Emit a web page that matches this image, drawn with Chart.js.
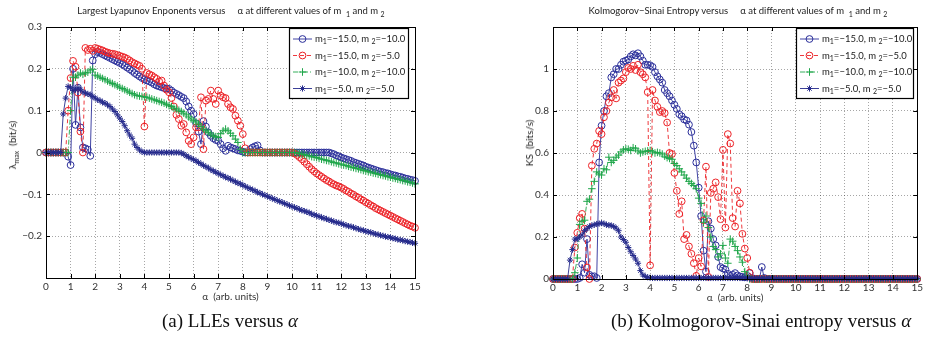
<!DOCTYPE html>
<html>
<head>
<meta charset="utf-8">
<script src="https://cdn.jsdelivr.net/npm/chart.js@4.4.1/dist/chart.umd.min.js"></script>
<style>
  body { margin:0; background:#fff; width:926px; height:349px; position:relative; overflow:hidden; font-family:Lato, "Liberation Sans", sans-serif; color:#222; }
  canvas { position:absolute; top:0; }
  .ttl { position:absolute; top:5px; transform:translateX(-50%); font-size:9.5px; line-height:12px; white-space:nowrap; color:#222; }
  .ylab { position:absolute; transform:translate(-50%,-50%) rotate(-90deg); font-size:10px; white-space:nowrap; color:#222; }
  sub { font-size:7px; vertical-align:-3px; line-height:0; }
  .cap { position:absolute; top:310px; transform:translateX(-50%); font-family:"Liberation Serif", serif; font-size:19px; white-space:nowrap; color:#111; }
</style>
</head>
<body>
<canvas id="lle" width="470" height="349" style="left:0"></canvas>
<canvas id="ks" width="456" height="349" style="left:470px"></canvas>

<div class="ttl" style="left:231px">Largest Lyapunov Enponents versus &nbsp;&nbsp;&nbsp; α at different values of m &nbsp;<sub>1</sub> and m <sub>2</sub></div>
<div class="ttl" style="left:738px">Kolmogorov−Sinai Entropy versus &nbsp;&nbsp;&nbsp; α at different values of m &nbsp;<sub>1</sub> and m <sub>2</sub></div>
<div class="ylab" style="left:12px; top:145px">λ<sub>max</sub>&nbsp; (bit/s)</div>
<div class="ylab" style="left:529px; top:143px">KS &nbsp;(bits/s)</div>
<div class="cap" style="left:230px">(a) LLEs versus <i>α</i></div>
<div class="cap" style="left:761px">(b) Kolmogorov-Sinai entropy versus <i>α</i></div>

<script>
// alpha grid, step 0.1 from 0 to 15
const alpha = [];
for (let i = 0; i <= 150; i++) alpha.push(+(i / 10).toFixed(1));

const alphaTicks = [0,1,2,3,4,5,6,7,8,9,10,11,12,13,14,15];
const lleTicks = [-0.2,-0.1,0,0.1,0.2,0.3];
const ksTicks = [0,0.2,0.4,0.6,0.8,1];

const legendM1 = ['−15.0','−15.0','−10.0','−5.0'];
const legendM2 = ['−10.0','−5.0','−10.0','−5.0'];

// largest Lyapunov exponent (bit/s)
const lle_m15_m10 = [
  0,0,0,0,0,0,0,0,0,-0.01,
  -0.03,0.2,0.066,0.155,0.06,0.012,0.01,0.007,-0.008,0.22,
  0.235,0.24,0.238,0.235,0.232,0.229,0.226,0.223,0.22,0.217,
  0.214,0.211,0.207,0.203,0.199,0.195,0.19,0.186,0.182,0.178,
  0.175,0.172,0.17,0.167,0.163,0.16,0.158,0.156,0.154,0.153,
  0.152,0.148,0.143,0.14,0.137,0.133,0.13,0.122,0.11,0.1,
  0.092,0.07,0.05,0.02,0.075,0.062,0.048,0.04,0.034,0.03,
  0.028,0.02,0.01,0.004,0.016,0.012,0.01,0.008,0.005,0.004,
  0.002,0,0,0.008,0.012,0.015,0.017,0.005,0,0,
  0,0,0,0,0,0,0,0,0,0,
  0,0,0,0,0,0,0,0,0,0,
  0,0,0,0,0,0,-0.002,-0.004,-0.007,-0.009,
  -0.012,-0.014,-0.016,-0.018,-0.02,-0.023,-0.025,-0.027,-0.029,-0.031,
  -0.034,-0.036,-0.038,-0.04,-0.042,-0.044,-0.046,-0.047,-0.049,-0.05,
  -0.052,-0.054,-0.055,-0.057,-0.058,-0.06,-0.062,-0.063,-0.065,-0.066,
  -0.068
];
const lle_m15_m5 = [
  0,0,0,0,0,0,0,0,0,0.1,
  0.178,0.219,0.205,0.143,0.05,0,0.25,0.245,0.248,0.243,
  0.25,0.248,0.246,0.244,0.241,0.239,0.237,0.236,0.235,0.233,
  0.231,0.229,0.227,0.224,0.22,0.216,0.213,0.21,0.207,0.2,
  0.062,0.19,0.187,0.184,0.18,0.176,0.17,0.172,0.16,0.15,
  0.144,0.13,0.11,0.09,0.08,0.064,0.068,0.048,0.028,0.02,
  0.036,0.06,0.06,0.132,0.008,0.124,0.128,0.148,0.128,0.116,
  0.148,0.136,0.132,0.13,0.116,0.108,0.104,0.088,0.076,0.064,
  0.044,0.01,0,0,0,0,0,0,0,0,
  0,0,0,0,0,0,0,0,0,0,
  0,-0.002,-0.006,-0.011,-0.016,-0.022,-0.028,-0.034,-0.04,-0.045,
  -0.05,-0.054,-0.058,-0.062,-0.066,-0.069,-0.073,-0.076,-0.079,-0.081,
  -0.084,-0.087,-0.091,-0.094,-0.098,-0.101,-0.105,-0.108,-0.112,-0.115,
  -0.119,-0.122,-0.126,-0.129,-0.133,-0.136,-0.139,-0.142,-0.145,-0.148,
  -0.151,-0.154,-0.157,-0.16,-0.163,-0.166,-0.169,-0.172,-0.175,-0.177,
  -0.18
];
const lle_m10_m10 = [
  0,0,0,0,0,0,0,0,0,0,
  0.1,0.18,0.18,0.185,0.19,0.187,0.19,0.192,0.197,0.199,
  0.185,0.183,0.18,0.177,0.174,0.171,0.168,0.165,0.162,0.159,
  0.156,0.153,0.15,0.147,0.144,0.141,0.138,0.136,0.135,0.134,
  0.133,0.132,0.13,0.128,0.126,0.124,0.122,0.12,0.118,0.115,
  0.112,0.11,0.106,0.104,0.101,0.098,0.094,0.09,0.085,0.08,
  0.076,0.073,0.068,0.062,0.056,0.052,0.048,0.044,0.04,0.038,
  0.036,0.045,0.052,0.056,0.052,0.046,0.04,0.032,0.024,0.008,
  0,0,0,0,0,0,0,0,0,0,
  0,0,0,0,0,0,0,0,0,0,
  0,0,-0.001,-0.002,-0.004,-0.005,-0.007,-0.008,-0.01,-0.011,
  -0.012,-0.014,-0.016,-0.017,-0.019,-0.02,-0.022,-0.024,-0.025,-0.027,
  -0.028,-0.03,-0.031,-0.033,-0.035,-0.036,-0.038,-0.039,-0.041,-0.043,
  -0.044,-0.046,-0.047,-0.049,-0.05,-0.052,-0.053,-0.055,-0.056,-0.058,
  -0.059,-0.061,-0.062,-0.064,-0.065,-0.067,-0.068,-0.07,-0.071,-0.073,
  -0.075
];
const lle_m5_m5 = [
  0,0,0,0,0,0,0,0.092,0.13,0.158,
  0.155,0.148,0.15,0.155,0.15,0.145,0.142,0.14,0.138,0.134,
  0.13,0.126,0.124,0.12,0.118,0.114,0.11,0.104,0.098,0.09,
  0.082,0.074,0.064,0.052,0.042,0.034,0.02,0.012,0.006,0.002,
  0,0,0,0,0,0,0,0,0,0,
  0,0,0,0,0,-0.001,-0.004,-0.008,-0.011,-0.014,
  -0.017,-0.02,-0.024,-0.027,-0.031,-0.034,-0.037,-0.041,-0.044,-0.047,
  -0.05,-0.053,-0.056,-0.059,-0.061,-0.064,-0.067,-0.07,-0.073,-0.075,
  -0.078,-0.081,-0.084,-0.087,-0.089,-0.092,-0.095,-0.097,-0.1,-0.102,
  -0.105,-0.107,-0.11,-0.112,-0.115,-0.117,-0.119,-0.122,-0.124,-0.127,
  -0.129,-0.131,-0.133,-0.136,-0.138,-0.14,-0.142,-0.144,-0.147,-0.149,
  -0.151,-0.153,-0.155,-0.157,-0.159,-0.161,-0.163,-0.165,-0.167,-0.168,
  -0.17,-0.172,-0.174,-0.176,-0.177,-0.179,-0.181,-0.183,-0.185,-0.186,
  -0.188,-0.19,-0.191,-0.193,-0.195,-0.196,-0.198,-0.199,-0.201,-0.202,
  -0.203,-0.205,-0.206,-0.208,-0.209,-0.21,-0.212,-0.213,-0.214,-0.216,
  -0.217
];

// Kolmogorov-Sinai entropy (bits/s)
const ks_m15_m10 = [
  0,0,0,0,0,0,0,0,0,0,
  0,0.005,0.07,0.03,0.19,0.02,0.012,0.013,0.005,0.555,
  0.73,0.8,0.87,0.885,0.96,0.975,1.0,1.0,1.02,1.035,
  1.04,1.045,1.06,1.07,1.065,1.075,1.06,1.04,1.02,1.02,
  1.018,1.01,0.985,0.965,0.95,0.935,0.9,0.885,0.87,0.85,
  0.83,0.81,0.785,0.775,0.76,0.755,0.735,0.7,0.635,0.555,
  0.435,0.3,0.135,0.035,0.275,0.24,0.19,0.16,0.105,0.057,
  0.05,0.045,0.025,0.015,0.02,0.028,0.017,0.012,0.01,0.008,
  0.015,0.028,0.005,0,0,0,0.057,0.005,0,0,
  0,0,0,0,0,0,0,0,0,0,
  0,0,0,0,0,0,0,0,0,0,
  0,0,0,0,0,0,0,0,0,0,
  0,0,0,0,0,0,0,0,0,0,
  0,0,0,0,0,0,0,0,0,0,
  0,0,0,0,0,0,0,0,0,0,
  0
];
const ks_m15_m5 = [
  0,0,0,0,0,0,0,0,0,0.15,
  0.22,0.29,0.31,0.24,0.055,0,0.54,0.62,0.645,0.705,
  0.69,0.77,0.8,0.84,0.865,0.9,0.86,0.935,0.945,0.955,
  0.985,1.005,1.0,1.015,0.995,1.02,0.985,0.975,0.96,0.89,
  0.065,0.9,0.85,0.82,0.795,0.8,0.79,0.745,0.6,0.595,
  0.505,0.42,0.31,0.37,0.19,0.21,0.155,0.12,0.075,0.015,
  0.1,0.06,0.28,0.535,0.01,0.41,0.43,0.46,0.39,0.285,
  0.615,0.245,0.69,0.645,0.29,0.25,0.42,0.36,0.215,0.145,
  0.1,0.03,0,0,0,0,0,0,0,0,
  0,0,0,0,0,0,0,0,0,0,
  0,0,0,0,0,0,0,0,0,0,
  0,0,0,0,0,0,0,0,0,0,
  0,0,0,0,0,0,0,0,0,0,
  0,0,0,0,0,0,0,0,0,0,
  0,0,0,0,0,0,0,0,0,0,
  0
];
const ks_m10_m10 = [
  0,0,0,0,0,0,0,0,0,0.03,
  0.1,0.26,0.275,0.28,0.37,0.38,0.43,0.465,0.51,0.5,
  0.495,0.525,0.52,0.58,0.555,0.565,0.58,0.59,0.605,0.615,
  0.62,0.618,0.612,0.625,0.62,0.61,0.6,0.605,0.608,0.61,
  0.612,0.606,0.6,0.603,0.6,0.595,0.585,0.578,0.574,0.57,
  0.55,0.54,0.525,0.51,0.495,0.48,0.465,0.455,0.445,0.43,
  0.385,0.36,0.27,0.3,0.245,0.2,0.155,0.14,0.105,0.12,
  0.16,0.1,0.075,0.19,0.18,0.155,0.135,0.105,0.08,0.035,
  0.015,0,0,0,0,0,0,0,0,0,
  0,0,0,0,0,0,0,0,0,0,
  0,0,0,0,0,0,0,0,0,0,
  0,0,0,0,0,0,0,0,0,0,
  0,0,0,0,0,0,0,0,0,0,
  0,0,0,0,0,0,0,0,0,0,
  0,0,0,0,0,0,0,0,0,0,
  0
];
const ks_m5_m5 = [
  0,0,0,0,0,0,0,0.09,0.14,0.19,
  0.19,0.2,0.21,0.23,0.24,0.25,0.255,0.258,0.262,0.264,
  0.266,0.264,0.258,0.256,0.255,0.25,0.242,0.23,0.2,0.188,
  0.175,0.15,0.13,0.112,0.095,0.075,0.04,0.02,0.012,0.008,
  0.006,0.005,0.005,0.005,0.005,0.005,0.005,0.005,0.005,0.005,
  0.005,0.005,0.005,0.005,0.005,0.005,0.005,0.005,0.005,0.005,
  0.005,0.005,0.005,0.005,0.005,0.005,0.005,0.005,0.005,0.005,
  0.005,0.005,0.005,0.005,0.005,0.005,0.005,0.005,0.005,0.005,
  0.003,0.003,0.003,0.003,0.003,0.003,0.003,0.003,0.003,0.003,
  0.002,0.002,0.002,0.002,0.002,0.002,0.002,0.002,0.002,0.002,
  0.002,0.002,0.002,0.002,0.002,0.002,0.002,0.002,0.002,0.002,
  0.002,0.002,0.002,0.002,0.002,0.002,0.002,0.002,0.002,0.002,
  0.002,0.002,0.002,0.002,0.002,0.002,0.002,0.002,0.002,0.002,
  0.002,0.002,0.002,0.002,0.002,0.002,0.002,0.002,0.002,0.002,
  0.002,0.002,0.002,0.002,0.002,0.002,0.002,0.002,0.002,0.002,
  0.002
];

Chart.defaults.font.family = 'Lato, "Liberation Sans", sans-serif';
Chart.defaults.color = '#222';

const looks = [
  {color:'#2b2f9a', pointStyle:'circle', radius:3.4, dash:[], order:4},
  {color:'#ec2227', pointStyle:'circle', radius:3.4, dash:[4,3], order:3},
  {color:'#1fa64a', pointStyle:'cross', radius:3.8, dash:[5,2,1,2], order:2},
  {color:'#262b8c', pointStyle:'star', radius:3.1, dash:[], order:1}
];

function makeSets(series) {
  return series.map((vals, k) => ({
    label: 'm1=' + legendM1[k] + ', m2=' + legendM2[k],
    data: alpha.map((a, i) => ({x: a, y: vals[i]})),
    borderColor: looks[k].color,
    backgroundColor: 'rgba(0,0,0,0)',
    borderWidth: 0.9,
    borderDash: looks[k].dash,
    pointStyle: looks[k].pointStyle,
    pointRadius: looks[k].radius,
    pointBorderColor: looks[k].color,
    pointBackgroundColor: 'rgba(0,0,0,0)',
    pointBorderWidth: 1,
    order: looks[k].order,
    clip: false,
    tension: 0
  }));
}

function fmt(v) {
  if (v === 0) return '0';
  return String(+v.toFixed(2)).replace('-', '−');
}

// box, inward ticks and legend like the matlab figure
const matlabBox = {
  id: 'matlabBox',
  afterDatasetsDraw(chart, args, o) {
    const {ctx, chartArea, scales} = chart;
    const {left, right, top, bottom} = chartArea;
    ctx.save();
    ctx.strokeStyle = '#000';
    ctx.lineWidth = 1;
    ctx.setLineDash([]);
    ctx.beginPath();
    scales.x.ticks.forEach(t => {
      const px = Math.round(scales.x.getPixelForValue(t.value)) + 0.5;
      ctx.moveTo(px, bottom); ctx.lineTo(px, bottom - 4);
      ctx.moveTo(px, top); ctx.lineTo(px, top + 4);
    });
    scales.y.ticks.forEach(t => {
      const py = Math.round(scales.y.getPixelForValue(t.value)) + 0.5;
      ctx.moveTo(left, py); ctx.lineTo(left + 4, py);
      ctx.moveTo(right, py); ctx.lineTo(right - 4, py);
    });
    ctx.stroke();
    ctx.strokeRect(Math.round(left) + 0.5, Math.round(top) + 0.5, Math.round(right - left), Math.round(bottom - top));

    // legend
    const lg = o.box;
    ctx.fillStyle = '#fff';
    ctx.fillRect(lg.x, lg.y, lg.w, lg.h);
    ctx.lineWidth = 1.2;
    ctx.strokeRect(lg.x + 0.5, lg.y + 0.5, lg.w, lg.h);
    chart.data.datasets.forEach((ds, k) => {
      const yy = lg.y + 11 + k * 16.5;
      const x0 = lg.x + 4, x1 = lg.x + 23;
      ctx.strokeStyle = ds.borderColor;
      ctx.fillStyle = 'rgba(0,0,0,0)';
      ctx.lineWidth = 0.9;
      ctx.setLineDash(ds.borderDash);
      ctx.beginPath(); ctx.moveTo(x0, yy); ctx.lineTo(x1, yy); ctx.stroke();
      ctx.setLineDash([]);
      ctx.lineWidth = 1;
      Chart.helpers.drawPoint(ctx, {pointStyle: ds.pointStyle, radius: ds.pointRadius, rotation: 0, borderWidth: 1}, (x0 + x1) / 2, yy);
      // label with subscripts
      let tx = lg.x + 26;
      ctx.fillStyle = '#1a1a1a';
      ctx.textBaseline = 'middle';
      const big = '9.5px Lato, "Liberation Sans", sans-serif';
      const small = '7px Lato, "Liberation Sans", sans-serif';
      const put = (s, f, dy) => { ctx.font = f; ctx.fillText(s, tx, yy + dy); tx += ctx.measureText(s).width; };
      put('m', big, 0); put('1', small, 3);
      put('=' + legendM1[k] + ', m ', big, 0); put('2', small, 3);
      put('=' + legendM2[k], big, 0);
    });
    ctx.restore();
  }
};

function axisOpts(yTicks, yMin, yMax, pad, box) {
  const tickFont = {size: 10};
  return {
    responsive: false,
    animation: false,
    devicePixelRatio: 1,
    layout: {padding: pad, autoPadding: false},
    plugins: {
      legend: {display: false},
      title: {display: false},
      tooltip: {enabled: false},
      matlabBox: {box: box}
    },
    scales: {
      x: {
        type: 'linear', min: 0, max: 15,
        afterBuildTicks: s => { s.ticks = alphaTicks.map(v => ({value: v})); },
        afterFit: s => { s.height = 25; },
        grid: {color: 'rgba(0,0,0,0.35)', lineWidth: 1, drawTicks: false},
        border: {display: false, dash: [1, 2]},
        ticks: {padding: 3, maxRotation: 0, autoSkip: false, color: '#333', font: tickFont, callback: v => fmt(v)},
        title: {display: true, text: 'α  (arb. units)', padding: 0, color: '#333', font: {size: 10}}
      },
      y: {
        type: 'linear', min: yMin, max: yMax,
        afterBuildTicks: s => { s.ticks = yTicks.map(v => ({value: v})); },
        afterFit: s => { s.width = 46; },
        grid: {color: 'rgba(0,0,0,0.35)', lineWidth: 1, drawTicks: false},
        border: {display: false, dash: [1, 2]},
        ticks: {padding: 4, color: '#333', font: tickFont, callback: v => fmt(v)}
      }
    }
  };
}

new Chart(document.getElementById('lle').getContext('2d'), {
  type: 'line',
  data: {datasets: makeSets([lle_m15_m10, lle_m15_m5, lle_m10_m10, lle_m5_m5])},
  options: axisOpts(lleTicks, -0.3, 0.3, {left: 0, right: 55, top: 27, bottom: 46}, {x: 289, y: 28, w: 119, h: 70}),
  plugins: [matlabBox]
});

new Chart(document.getElementById('ks').getContext('2d'), {
  type: 'line',
  data: {datasets: makeSets([ks_m15_m10, ks_m15_m5, ks_m10_m10, ks_m5_m5])},
  options: axisOpts(ksTicks, 0, 1.2, {left: 37, right: 4, top: 27, bottom: 45}, {x: 326, y: 28, w: 117, h: 70}),
  plugins: [matlabBox]
});
</script>
</body>
</html>
